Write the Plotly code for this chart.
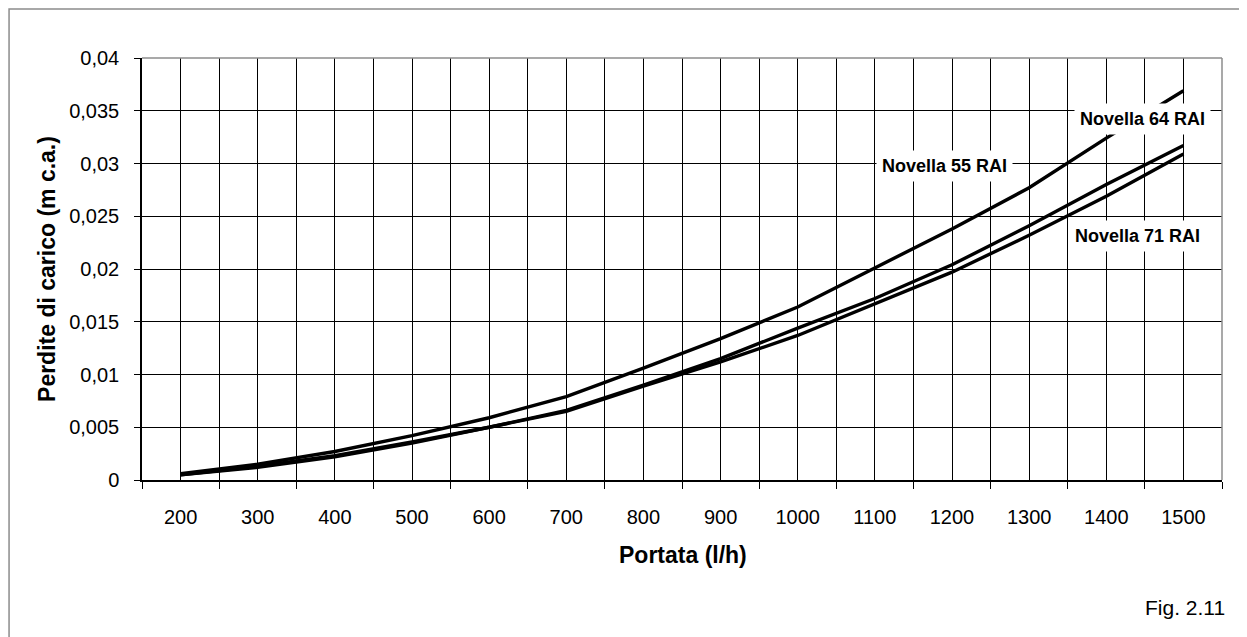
import plotly.graph_objects as go

portata = [200, 300, 400, 500, 600, 700, 800, 900, 1000, 1100, 1200, 1300, 1400, 1500]
novella_55 = [0.0006, 0.0015, 0.0027, 0.0042, 0.0059, 0.0079, 0.0106, 0.0134, 0.0164, 0.0201, 0.0238, 0.0277, 0.0324, 0.0369]
novella_64 = [0.0005, 0.0013, 0.0023, 0.0036, 0.0050, 0.0066, 0.0090, 0.0115, 0.0144, 0.0172, 0.0204, 0.0241, 0.0280, 0.0317]
novella_71 = [0.0005, 0.0012, 0.0022, 0.0035, 0.0050, 0.0065, 0.0089, 0.0112, 0.0137, 0.0167, 0.0197, 0.0232, 0.0269, 0.0309]
y_ticks = [0, 0.005, 0.01, 0.015, 0.02, 0.025, 0.03, 0.035, 0.04]
y_ticktext = ["0", "0,005", "0,01", "0,015", "0,02", "0,025", "0,03", "0,035", "0,04"]
x_boundaries = [150 + 100 * i for i in range(15)]

FONT = "Liberation Sans, Arial, sans-serif"

fig = go.Figure()
for name, vals in [("Novella 55 RAI", novella_55), ("Novella 64 RAI", novella_64), ("Novella 71 RAI", novella_71)]:
    fig.add_trace(go.Scatter(x=portata, y=vals, mode="lines", name=name,
                             line=dict(color="black", width=3.4), showlegend=False))

fig.update_layout(
    width=1239, height=629,
    margin=dict(l=134, r=25, t=50, b=157),
    paper_bgcolor="white", plot_bgcolor="white",
    font=dict(family=FONT, color="black"),
    xaxis=dict(
        range=[150, 1550], tickvals=portata, ticktext=[str(v) for v in portata],
        ticks="", showgrid=True, gridcolor="black", gridwidth=1,
        tickfont=dict(size=20, family=FONT), ticklabelstandoff=18,
        showline=True, linecolor="black", linewidth=1.5, zeroline=False,
        minor=dict(tickvals=x_boundaries, ticks="outside", ticklen=7, tickcolor="black",
                   showgrid=True, gridcolor="black", gridwidth=1),
    ),
    yaxis=dict(
        range=[0, 0.04], tickvals=y_ticks, ticktext=y_ticktext,
        ticks="outside", ticklen=6, tickcolor="black",
        showgrid=True, gridcolor="black", gridwidth=1,
        tickfont=dict(size=20, family=FONT), ticklabelstandoff=11,
        showline=True, linecolor="black", linewidth=1.5, zeroline=False,
    ),
)

# plot area top/right border (gray) and outer chart border
fig.add_shape(type="line", xref="paper", yref="paper", x0=0, x1=1, y0=1, y1=1,
              line=dict(color="#8c8c8c", width=1.5))
fig.add_shape(type="line", xref="paper", yref="paper", x0=1, x1=1, y0=0, y1=1,
              line=dict(color="#8c8c8c", width=1.5))
fig.add_shape(type="rect", xref="paper", yref="paper", x0=-0.1231, x1=1.0185, y0=-0.40, y1=1.1161,
              line=dict(color="#8c8c8c", width=1.5), fillcolor="rgba(0,0,0,0)")

labels = [("Novella 55 RAI", 1190, 0.0298), ("Novella 64 RAI", 1447, 0.0342), ("Novella 71 RAI", 1440, 0.0231)]
for txt, xx, yy in labels:
    fig.add_annotation(x=xx, y=yy, xref="x", yref="y", text="<b>" + txt + "</b>", showarrow=False,
                       font=dict(size=18, family=FONT, color="black"),
                       bgcolor="white", borderpad=5, xanchor="center", yanchor="middle")

fig.add_annotation(x=-0.088, y=0.5, xref="paper", yref="paper", text="<b>Perdite di carico (m c.a.)</b>",
                   textangle=-90, showarrow=False, font=dict(size=23, family=FONT),
                   xanchor="center", yanchor="middle")
fig.add_annotation(x=0.501, y=-0.1777, xref="paper", yref="paper", text="<b>Portata (l/h)</b>",
                   showarrow=False, font=dict(size=23, family=FONT), xanchor="center", yanchor="middle")
fig.add_annotation(x=1.0046, y=-0.301, xref="paper", yref="paper", text="Fig. 2.11",
                   showarrow=False, font=dict(size=21, family=FONT), xanchor="right", yanchor="middle")

fig.write_html("out.html")
